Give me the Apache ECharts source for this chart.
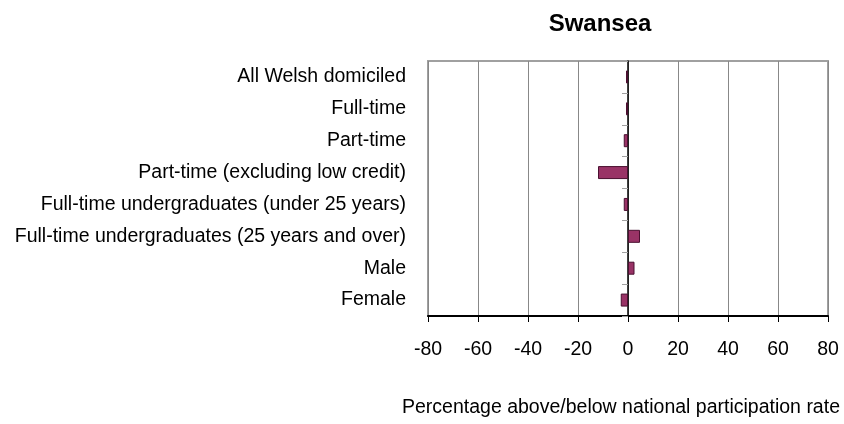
<!DOCTYPE html>
<html>
<head>
<meta charset="utf-8">
<script src="https://cdn.jsdelivr.net/npm/echarts@6/dist/echarts.min.js"></script>
<style>
  html, body { margin: 0; padding: 0; background: #fff; }
  #chart { width: 844px; height: 424px; }
</style>
</head>
<body>
<div id="chart"></div>
<script>
// categories, top to bottom
const categories = [
  'All Welsh domiciled',
  'Full-time',
  'Part-time',
  'Part-time (excluding low credit)',
  'Full-time undergraduates (under 25 years)',
  'Full-time undergraduates (25 years and over)',
  'Male',
  'Female'
]
// percentage above/below national participation rate
const values = [-0.8, -0.8, -1.7, -12, -1.7, 4.8, 2.6, -2.9]
const xTicks = [-80, -60, -40, -20, 0, 20, 40, 60, 80]

const chart = echarts.init(document.getElementById('chart'), null, { renderer: 'canvas' })
const font = 'Liberation Sans, Arial, sans-serif'

chart.setOption({
  animation: false,
  title: [
    {
      text: 'Swansea',
      left: 595,
      top: 7,
      textAlign: 'center',
      textStyle: { fontFamily: font, fontSize: 24, fontWeight: 'bold', color: '#000' }
    },
    {
      // axis title sits off-centre in the original, so it is placed by hand
      text: 'Percentage above/below national participation rate',
      left: 621,
      top: 398,
      padding: 0,
      textAlign: 'center',
      textStyle: { fontFamily: font, fontSize: 19.5, fontWeight: 'normal', color: '#000' }
    }
  ],
  grid: {
    left: 428,
    right: 16,
    top: 61,
    bottom: 108,
    show: true,
    borderColor: '#a0a0a0',
    borderWidth: 2
  },
  xAxis: {
    type: 'value',
    min: xTicks[0],
    max: xTicks[xTicks.length - 1],
    interval: 20,
    axisLine: { show: true, onZero: false, lineStyle: { color: '#000', width: 2 } },
    axisTick: { show: true, length: 6, lineStyle: { color: '#000' } },
    axisLabel: { margin: 24, fontFamily: font, fontSize: 19.5, color: '#000' },
    splitLine: { show: true, lineStyle: { color: '#888', width: 1 } }
  },
  yAxis: [
    {
      // labels only, kept at the left edge
      type: 'category',
      data: categories,
      inverse: true,
      axisLine: { show: false, onZero: false },
      axisTick: { show: false },
      axisLabel: { margin: 22, fontFamily: font, fontSize: 19.5, color: '#000' }
    },
    {
      // the zero line with its category ticks
      type: 'category',
      data: categories,
      inverse: true,
      position: 'left',
      axisLine: { show: true, onZero: true, onZeroAxisIndex: 0, lineStyle: { color: '#000', width: 1.5 } },
      axisTick: { show: true, length: 6, lineStyle: { color: '#a0a0a0' } },
      axisLabel: { show: false }
    }
  ],
  series: [
    {
      type: 'bar',
      data: values,
      barWidth: 13,
      itemStyle: { color: '#993366', borderColor: '#4a1030', borderWidth: 1 }
    }
  ]
})
</script>
</body>
</html>
